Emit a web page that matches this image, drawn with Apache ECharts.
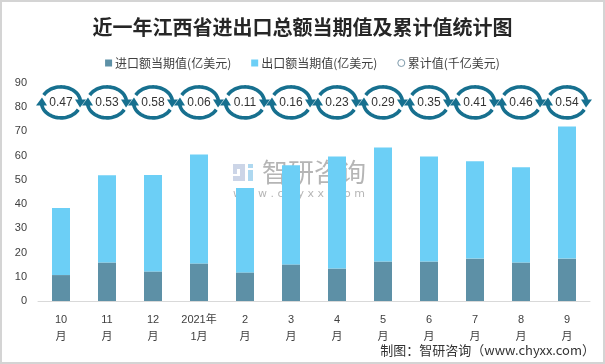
<!DOCTYPE html>
<html><head><meta charset="utf-8">
<script src="https://cdn.jsdelivr.net/npm/echarts@6/dist/echarts.min.js"></script>
<style>html,body{margin:0;padding:0;background:#fff}#c{width:605px;height:364px}</style>
</head><body><div id="c"></div>
<script>
// ---- data ----
const months = ['10\n月','11\n月','12\n月','2021年\n1月','2\n月','3\n月','4\n月','5\n月','6\n月','7\n月','8\n月','9\n月'];
const importVal = [10.7,15.9,12.2,15.5,11.8,15.1,13.4,16.3,16.3,17.5,15.9,17.5];
const exportVal = [27.7,36.0,39.8,45.0,34.8,40.9,46.3,47.1,43.4,40.2,39.3,54.5];
const cumulative = [0.47,0.53,0.58,0.06,0.11,0.16,0.23,0.29,0.35,0.41,0.46,0.54];
const yMin = 0, yMax = 90, yInterval = 10;
const seriesNames = ['进口额当期值(亿美元)','出口额当期值(亿美元)','累计值(千亿美元)'];

// ---- layout / style ----
const BADGE_ROW = 82; // y level (axis units) of the cumulative badge row
const C_IMP = '#5d90a6', C_EXP = '#6ccff6', C_RING = '#17708f';
const TXT = '#404040';

function ellipsePts(cx, cy, rx, ry, a0, a1) {
  const pts = [];
  for (let k = 0; k <= 30; k++) {
    const a = (a0 + (a1 - a0) * k / 30) * Math.PI / 180;
    pts.push([cx + rx * Math.cos(a), cy + ry * Math.sin(a)]);
  }
  return pts;
}
function renderBadge(params, api) {
  const p = api.coord([api.value(0), api.value(1)]);
  const cx = p[0], cy = p[1], rx = 19.5, ry = 15.5;
  const ln = { stroke: C_RING, lineWidth: 3.6, fill: null, lineCap: 'butt' };
  return {
    type: 'group',
    children: [
      { type: 'polyline', shape: { points: ellipsePts(cx, cy, rx, ry, 208, 352) }, style: ln },
      { type: 'polyline', shape: { points: ellipsePts(cx, cy, rx, ry, 28, 172) }, style: ln },
      { type: 'polygon', shape: { points: [[cx + rx - 5.5, cy - 3], [cx + rx + 5.5, cy - 3], [cx + rx - 0.5, cy + 5]] }, style: { fill: C_RING } },
      { type: 'polygon', shape: { points: [[cx - rx - 5.5, cy + 3], [cx - rx + 5.5, cy + 3], [cx - rx + 0.5, cy - 5]] }, style: { fill: C_RING } },
      { type: 'text', style: { x: cx, y: cy, text: api.value(2).toFixed(2), align: 'center', verticalAlign: 'middle',
          fill: '#333', font: '12px "Liberation Sans", Arial, sans-serif' } }
    ]
  };
}

const chart = echarts.init(document.getElementById('c'), null, { renderer: 'canvas' });
chart.setOption({
  animation: false,
  backgroundColor: '#fff',
  title: {
    text: '近一年江西省进出口总额当期值及累计值统计图',
    left: 'center', top: 12,
    textStyle: { fontSize: 20, fontWeight: 'bold', color: '#262626', fontFamily: '"Noto Sans CJK SC", sans-serif' }
  },
  legend: {
    top: 52, left: 'center', itemWidth: 7, itemHeight: 7, itemGap: 20,
    textStyle: { fontSize: 12, color: TXT, fontFamily: '"Noto Sans CJK SC", sans-serif', padding: [0, 0, 0, -2] },
    data: [
      { name: seriesNames[0], icon: 'rect' },
      { name: seriesNames[1], icon: 'rect' },
      { name: seriesNames[2], icon: 'circle', itemStyle: { color: '#fff', borderColor: '#7d9aab', borderWidth: 1 } }
    ]
  },
  grid: { left: 38, right: 15, top: 83, bottom: 63, containLabel: false },
  xAxis: {
    type: 'category', data: months,
    axisLine: { lineStyle: { color: '#d9d9d9', width: 1 } },
    axisTick: { show: false },
    axisLabel: { interval: 0, fontSize: 11, color: TXT, lineHeight: 17, margin: 10,
      fontFamily: '"Liberation Sans", "Noto Sans CJK SC", sans-serif' }
  },
  yAxis: {
    type: 'value', min: yMin, max: yMax, interval: yInterval,
    splitLine: { show: false }, axisLine: { show: false }, axisTick: { show: false },
    axisLabel: { fontSize: 11, color: TXT, margin: 11, fontFamily: '"Liberation Sans", sans-serif' }
  },
  series: [
    { name: seriesNames[0], type: 'bar', stack: 't', data: importVal, barWidth: 18, itemStyle: { color: C_IMP } },
    { name: seriesNames[1], type: 'bar', stack: 't', data: exportVal, barWidth: 18, itemStyle: { color: C_EXP } },
    { name: seriesNames[2], type: 'custom', renderItem: renderBadge, clip: false, z: 5,
      itemStyle: { color: '#fff', borderColor: '#7d9aab' },
      data: cumulative.map((v, i) => [i, BADGE_ROW, v]) }
  ],
  graphic: [
    { type: 'rect', z: 100, silent: true, shape: { x: 1, y: 1, width: 603, height: 362 },
      style: { fill: null, stroke: '#d4d4d4', lineWidth: 2 } },
    // watermark
    { type: 'group', z: 50, silent: true, children: [
      { type: 'rect', shape: { x: 233, y: 164, width: 12, height: 5 }, style: { fill: 'rgba(170,185,215,0.6)' } },
      { type: 'rect', shape: { x: 240, y: 169, width: 5, height: 7 }, style: { fill: 'rgba(170,185,215,0.6)' } },
      { type: 'rect', shape: { x: 233, y: 176, width: 12, height: 5 }, style: { fill: 'rgba(170,185,215,0.6)' } },
      { type: 'rect', shape: { x: 233, y: 169, width: 4, height: 5 }, style: { fill: 'rgba(170,185,215,0.6)' } },
      { type: 'rect', shape: { x: 248, y: 164, width: 5, height: 4 }, style: { fill: 'rgba(120,190,230,0.6)' } },
      { type: 'rect', shape: { x: 248, y: 170, width: 5, height: 11 }, style: { fill: 'rgba(120,190,230,0.6)' } },
      { type: 'text', style: { x: 262, y: 172, text: '智研咨询', verticalAlign: 'middle', fill: 'rgba(120,120,120,0.55)',
          font: '26px "Noto Sans CJK SC", sans-serif' } },
      { type: 'text', style: { x: 233, y: 194, text: 'w w w . c h y x x . c o m', verticalAlign: 'middle', fill: 'rgba(120,120,120,0.55)',
          font: '11px "DejaVu Sans", sans-serif' } }
    ] },
    { type: 'text', right: 10, top: 344, silent: true,
      style: { text: '制图：智研咨询（www.chyxx.com）', fill: '#333', font: '13px "Noto Sans CJK SC", sans-serif' } }
  ]
});
</script>
</body></html>
